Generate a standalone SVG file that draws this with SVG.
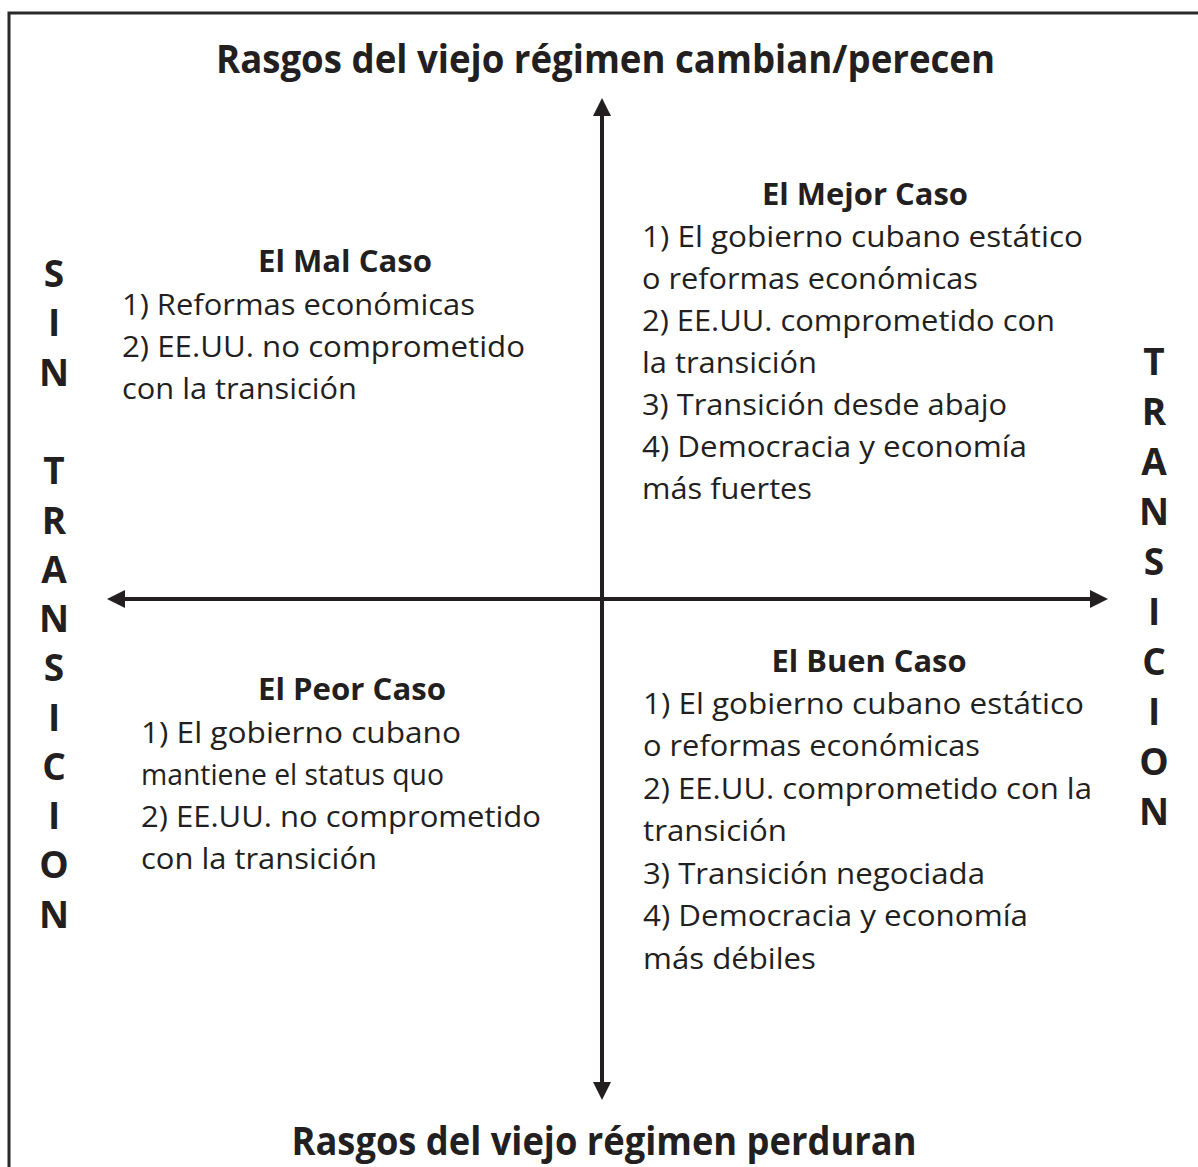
<svg xmlns="http://www.w3.org/2000/svg" width="1198" height="1167" viewBox="0 0 1198 1167">
<style>
text{font-family:"Open Sans","Noto Sans","Liberation Sans",sans-serif;fill:#231f20}
.title{font-size:40px;font-weight:700;text-anchor:middle}
.head{font-size:30px;font-weight:700;text-anchor:middle}
.body{font-size:30px;font-weight:400}
.side{font-size:37px;font-weight:700;text-anchor:middle}
.ax{stroke:#231f20;stroke-width:4;fill:none}
.ah{fill:#231f20}
</style>
<rect width="1198" height="1167" fill="#fff"/>
<g id="frame" fill="none" stroke="#2a2a2a" stroke-width="3">
<polyline points="9,1167 9,13 1198,13"/>
</g>
<g id="connectors">
<line class="ax" x1="602" y1="114" x2="602" y2="1084"/>
<polygon class="ah" points="602,98 593,116 611,116"/>
<polygon class="ah" points="602,1100 593,1082 611,1082"/>
<line class="ax" x1="123" y1="599" x2="1092" y2="599"/>
<polygon class="ah" points="107,599 125,590 125,608"/>
<polygon class="ah" points="1108,599 1090,590 1090,608"/>
</g>
<g id="title-top"><text class="title" x="605.5" y="73" textLength="779" lengthAdjust="spacingAndGlyphs">Rasgos del viejo régimen cambian/perecen</text></g>
<g id="title-bottom"><text class="title" x="604" y="1155" textLength="625" lengthAdjust="spacingAndGlyphs">Rasgos del viejo régimen perduran</text></g>
<g id="mal-caso">
<text class="head" x="345" y="272" textLength="174" lengthAdjust="spacingAndGlyphs">El Mal Caso</text>
<text class="body" x="122" y="315" textLength="353" lengthAdjust="spacingAndGlyphs">1) Reformas económicas</text>
<text class="body" x="122" y="357" textLength="403" lengthAdjust="spacingAndGlyphs">2) EE.UU. no comprometido</text>
<text class="body" x="122" y="399" textLength="235" lengthAdjust="spacingAndGlyphs">con la transición</text>
</g>
<g id="mejor-caso">
<text class="head" x="865" y="205" textLength="206" lengthAdjust="spacingAndGlyphs">El Mejor Caso</text>
<text class="body" x="642" y="247" textLength="441" lengthAdjust="spacingAndGlyphs">1) El gobierno cubano estático</text>
<text class="body" x="642" y="289" textLength="336" lengthAdjust="spacingAndGlyphs">o reformas económicas</text>
<text class="body" x="642" y="331" textLength="413" lengthAdjust="spacingAndGlyphs">2) EE.UU. comprometido con</text>
<text class="body" x="642" y="373" textLength="175" lengthAdjust="spacingAndGlyphs">la transición</text>
<text class="body" x="642" y="415" textLength="365" lengthAdjust="spacingAndGlyphs">3) Transición desde abajo</text>
<text class="body" x="642" y="457" textLength="385" lengthAdjust="spacingAndGlyphs">4) Democracia y economía</text>
<text class="body" x="642" y="499" textLength="170" lengthAdjust="spacingAndGlyphs">más fuertes</text>
</g>
<g id="peor-caso">
<text class="head" x="352" y="700" textLength="188" lengthAdjust="spacingAndGlyphs">El Peor Caso</text>
<text class="body" x="141" y="743" textLength="320" lengthAdjust="spacingAndGlyphs">1) El gobierno cubano</text>
<text class="body" x="141" y="785" textLength="303" lengthAdjust="spacingAndGlyphs">mantiene el status quo</text>
<text class="body" x="141" y="827" textLength="400" lengthAdjust="spacingAndGlyphs">2) EE.UU. no comprometido</text>
<text class="body" x="141" y="869" textLength="236" lengthAdjust="spacingAndGlyphs">con la transición</text>
</g>
<g id="buen-caso">
<text class="head" x="869" y="672" textLength="195" lengthAdjust="spacingAndGlyphs">El Buen Caso</text>
<text class="body" x="643" y="714" textLength="441" lengthAdjust="spacingAndGlyphs">1) El gobierno cubano estático</text>
<text class="body" x="643" y="756" textLength="337" lengthAdjust="spacingAndGlyphs">o reformas económicas</text>
<text class="body" x="643" y="799" textLength="449" lengthAdjust="spacingAndGlyphs">2) EE.UU. comprometido con la</text>
<text class="body" x="643" y="841" textLength="144" lengthAdjust="spacingAndGlyphs">transición</text>
<text class="body" x="643" y="884" textLength="342" lengthAdjust="spacingAndGlyphs">3) Transición negociada</text>
<text class="body" x="643" y="926" textLength="385" lengthAdjust="spacingAndGlyphs">4) Democracia y economía</text>
<text class="body" x="643" y="969" textLength="173" lengthAdjust="spacingAndGlyphs">más débiles</text>
</g>
<g id="sin-transicion">
<text class="side" x="54" y="287">S</text>
<text class="side" x="54" y="336">I</text>
<text class="side" x="54" y="386">N</text>
<text class="side" x="54" y="484">T</text>
<text class="side" x="54" y="534">R</text>
<text class="side" x="54" y="583">A</text>
<text class="side" x="54" y="632">N</text>
<text class="side" x="54" y="681">S</text>
<text class="side" x="54" y="731">I</text>
<text class="side" x="54" y="780">C</text>
<text class="side" x="54" y="829">I</text>
<text class="side" x="54" y="878">O</text>
<text class="side" x="54" y="928">N</text>
</g>
<g id="transicion">
<text class="side" x="1154" y="375">T</text>
<text class="side" x="1154" y="425">R</text>
<text class="side" x="1154" y="475">A</text>
<text class="side" x="1154" y="525">N</text>
<text class="side" x="1154" y="575">S</text>
<text class="side" x="1154" y="625">I</text>
<text class="side" x="1154" y="675">C</text>
<text class="side" x="1154" y="725">I</text>
<text class="side" x="1154" y="775">O</text>
<text class="side" x="1154" y="825">N</text>
</g>
</svg>
